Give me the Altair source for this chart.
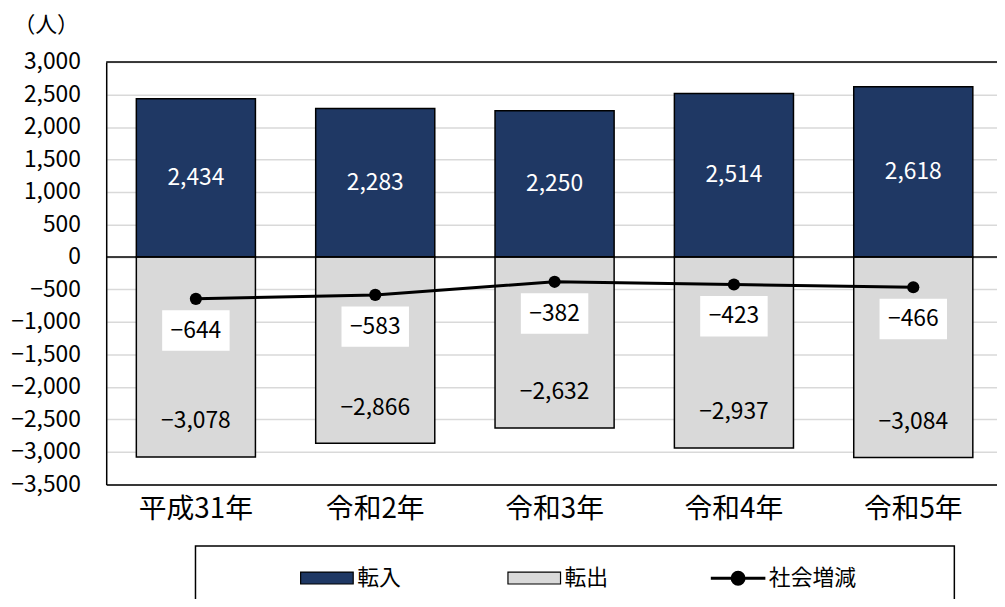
import altair as alt
import pandas as pd

years = ["平成31年", "令和2年", "令和3年", "令和4年", "令和5年"]
tennyu = [2434, 2283, 2250, 2514, 2618]
tenshutsu = [-3078, -2866, -2632, -2937, -3084]
shakai = [-644, -583, -382, -423, -466]
y_ticks = list(range(-3500, 3001, 500))

FONT = "Noto Sans CJK JP"
NAVY = "#1f3864"
GRAY = "#d9d9d9"

bars_df = pd.DataFrame(
    {"year": years * 2,
     "series": ["転入"] * 5 + ["転出"] * 5,
     "value": tennyu + tenshutsu}
)
net_df = pd.DataFrame({"year": years, "series": ["社会増減"] * 5, "value": shakai})
in_df = pd.DataFrame({"year": years, "value": tennyu})
out_df = pd.DataFrame({"year": years, "value": tenshutsu})
border_df = pd.DataFrame({"value": [0, 3000]})

xscale = alt.Scale(domain=years, range=[0, 904], paddingInner=0.336, paddingOuter=0.168)
yscale = alt.Scale(domain=[-3500, 3000], nice=False, zero=False)

x_axis = alt.Axis(labelFont=FONT, labelFontSize=28, labelColor="black", labelAngle=0,
                  labelPadding=11, ticks=False, domainColor="black", domainWidth=1.5,
                  title=None, grid=False)
y_axis = alt.Axis(values=y_ticks, format=",d",
                  labelFont=FONT, labelFontSize=23, labelColor="black", labelPadding=26,
                  labelOverlap=False, labelFlush=False,
                  ticks=False, domainColor="black", domainWidth=1.5,
                  grid=True, gridColor=GRAY, gridWidth=1.5,
                  title="（人）", titleAngle=0, titleFont=FONT, titleFontSize=22,
                  titleFontWeight="normal", titleColor="black",
                  titleAlign="left", titleBaseline="middle", titleX=-94, titleY=-38)

X = alt.X("year:N", scale=xscale, sort=years, axis=x_axis, title=None)
Y = alt.Y("value:Q", scale=yscale, axis=y_axis, title="（人）")

rect_path = "M-1,-0.226L1,-0.226L1,0.226L-1,0.226Z"
line_path = "M-1,0L1,0M-0.22,0A0.22,0.22,0,1,1,0.22,0A0.22,0.22,0,1,1,-0.22,0Z"

bars = alt.Chart(bars_df).mark_bar(stroke="black", strokeWidth=1.5).encode(
    x=X, y=Y,
    fill=alt.Fill("series:N", scale=alt.Scale(domain=["転入", "転出"], range=[NAVY, GRAY]),
                  legend=alt.Legend(orient="none", legendX=195, legendY=492.5, direction="horizontal",
                                    title=None, symbolType=rect_path, symbolSize=2809,
                                    symbolStrokeColor="black", symbolStrokeWidth=1.2,
                                    labelFont=FONT, labelFontSize=22, labelColor="black",
                                    labelOffset=3, columnPadding=104, padding=0)),
)

borders = alt.Chart(border_df).mark_rule(color="black", strokeWidth=1.5).encode(y=Y)

line = alt.Chart(net_df).mark_line(strokeWidth=3).encode(
    x=X, y=Y,
    stroke=alt.Stroke("series:N", scale=alt.Scale(domain=["社会増減"], range=["black"]),
                      legend=alt.Legend(orient="none", legendX=608, legendY=491.5, title=None,
                                        symbolType=line_path, symbolSize=3025,
                                        symbolStrokeWidth=3, symbolFillColor="black",
                                        symbolStrokeColor="black",
                                        labelFont=FONT, labelFontSize=22, labelColor="black",
                                        labelOffset=2, padding=0)),
)

pts = alt.Chart(net_df).mark_point(filled=True, size=150, color="black", opacity=1).encode(x=X, y=Y)

box_path = "M-1,-0.6L1,-0.6L1,0.6L-1,0.6Z"
boxes = alt.Chart(net_df).mark_point(shape=box_path, size=4624, filled=True, fill="white",
                                     opacity=1, yOffset=32).encode(x=X, y=Y)

net_text = alt.Chart(net_df).mark_text(font=FONT, fontSize=23, color="black", dy=32).encode(
    x=X, y=Y, text=alt.Text("value:Q", format=",d"),
)

in_text = alt.Chart(in_df).mark_text(font=FONT, fontSize=23, color="white").encode(
    x=X,
    y=alt.Y("mid:Q", scale=yscale, axis=y_axis, title="（人）"),
    text=alt.Text("value:Q", format=",d"),
).transform_calculate(mid="datum.value / 2")

out_text = alt.Chart(out_df).mark_text(font=FONT, fontSize=23, color="black", dy=-36).encode(
    x=X, y=Y, text=alt.Text("value:Q", format=",d"),
)

legend_box = alt.Chart(pd.DataFrame({"k": [0]})).mark_rect(
    filled=False, stroke="black", strokeWidth=1.5).encode(
    x=alt.value(90), x2=alt.value(855), y=alt.value(488), y2=alt.value(570)
)

chart = alt.layer(bars, borders, line, pts, boxes, net_text, in_text, out_text, legend_box).resolve_scale(
    fill="independent", stroke="independent"
).properties(
    width=898, height=426,
    autosize=alt.AutoSizeParams(type="none"),
    padding={"left": 99, "top": 52, "right": 0, "bottom": 113},
).configure_view(stroke="transparent").configure_axis(labelOverlap=False).configure(background="white")

chart.save("out.html", embed_options={"renderer": "svg", "actions": False})
